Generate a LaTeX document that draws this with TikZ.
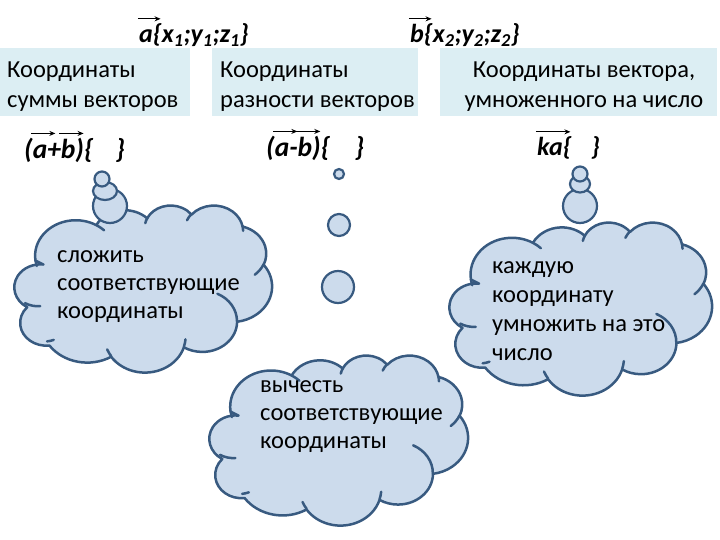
\documentclass[tikz,border=0pt]{standalone}
\usepackage{fontspec}
\setmainfont{Carlito}
\usetikzlibrary{arrows.meta}
\definecolor{boxc}{HTML}{DCEEF3}
\definecolor{cloudf}{HTML}{CCDBEC}
\definecolor{cloudd}{HTML}{385A80}
\newlength\vvw
\newcommand\vv[1]{\settowidth\vvw{#1}\rlap{\hspace{-0.08em}\raisebox{0.93em}{\tikz[x=1pt,y=1pt,baseline=0pt]\draw[line width=1.3pt,-{Stealth[length=6pt,width=5pt]}] (0,0)--(\vvw+0.35em,0);}}#1}
% PowerPoint-style cloud outline, in units of 1/432 of the cloud's box
\def\cloudpath{}
\def\cloudinner{}
\newcommand\addarc[4]{%
  \pgfmathsetmacro\tA{atan2((#1)*sin(#3),(#2)*cos(#3))}%
  \pgfmathsetmacro\tB{atan2((#1)*sin(#3+#4),(#2)*cos(#3+#4))}%
  \pgfmathsetmacro\tD{mod(\tB-\tA+720,360)}%
  \xdef\cloudpath{\cloudpath arc[x radius=#1,y radius=#2,start angle=\tA,delta angle=\tD]}}
\newcommand\addinner[6]{%
  \pgfmathsetmacro\tA{atan2((#3)*sin(#5),(#4)*cos(#5))}%
  \pgfmathsetmacro\tB{atan2((#3)*sin(#5+#6),(#4)*cos(#5+#6))}%
  \pgfmathsetmacro\tD{mod(\tB-\tA+720,360)}%
  \xdef\cloudinner{\cloudinner (#1,#2) arc[x radius=#3,y radius=#4,start angle=\tA,delta angle=\tD]}}
\addarc{67.53}{91.90}{-190.4875}{123.7805}
\addarc{53.33}{72.67}{-144.1024}{89.9452}
\addarc{43.65}{59.45}{-145.8079}{99.7230}
\addarc{48.57}{65.95}{-130.9861}{117.2417}
\addarc{53.33}{72.73}{-78.7089}{109.0269}
\addarc{67.75}{92.20}{-46.2673}{130.2690}
\addarc{57.85}{78.67}{0.6250}{114.0333}
\addarc{67.52}{92.15}{22.4516}{115.1726}
\addarc{77.20}{105.43}{66.2426}{69.4910}
\addarc{43.60}{59.18}{-274.9421}{146.7356}
\addarc{43.45}{59.45}{-246.8285}{161.6718}
\addinner{46.93}{261.77}{43.45}{59.45}{86.7420}{26.4295}
\addinner{69.28}{348.99}{43.60}{59.18}{73.6105}{11.4475}
\addinner{164.78}{390.90}{67.52}{92.15}{137.6242}{14.0811}
\addinner{288.27}{347.51}{67.52}{92.15}{6.4533}{15.9984}
\addinner{341.29}{229.54}{57.85}{78.67}{-70.2924}{70.9174}
\addinner{417.98}{153.54}{53.33}{72.73}{30.3180}{27.7515}
\addinner{383.24}{54.26}{48.57}{65.95}{-13.7443}{14.8589}
\addinner{290.78}{39.52}{48.57}{65.95}{-149.1815}{18.1954}
\addinner{221.41}{47.20}{43.65}{59.45}{-163.4943}{17.6864}
\addinner{140.00}{51.92}{67.53}{91.90}{-66.7070}{12.3194}
\addinner{41.27}{157.89}{67.53}{91.90}{157.6544}{11.8582}
\newcommand\pptcloud[4]{%
  \pgfmathsetmacro\cwx{#3/432}\pgfmathsetmacro\cwy{#4/432}%
  \begin{scope}[shift={(#1,#2)}, x=\cwx pt, y=-\cwy pt]
    \path[fill=cloudf, draw=cloudd, line width=2.5pt, line join=round] (39.00,143.70) \cloudpath -- cycle;
    \draw[cloudd, line width=2.5pt, line cap=round] \cloudinner;
  \end{scope}}
\begin{document}
\begin{tikzpicture}[x=1pt,y=-1pt,
  boxtxt/.style={anchor=north west, align=left, inner sep=0pt, font=\fontsize{24.5}{30}\selectfont},
  hdr/.style={anchor=base west, inner sep=0pt, font=\fontsize{26}{30}\selectfont\bfseries\itshape},
  lbl/.style={hdr, font=\fontsize{27.5}{30}\selectfont\bfseries\itshape},
  cloudtxt/.style={anchor=north west, align=left, inner sep=0pt, font=\fontsize{24.5}{28}\selectfont},
  bub/.style={fill=cloudf, draw=cloudd, line width=2.2pt}]
\useasboundingbox (0,0) rectangle (720,540);
% header boxes
\fill[boxc] (0,48) rectangle (190,116);
\fill[boxc] (212,48) rectangle (418,116);
\fill[boxc] (440,48) rectangle (717,116);
\node[boxtxt] (t1) at (7,62) {Координаты\\суммы векторов};
\node[boxtxt] (t2) at (220,62) {Координаты\\разности векторов};
\node[boxtxt, align=center, anchor=north] (t3) at (584,62) {Координаты вектора,\\умноженного на число};
% vector headers
\node[hdr] (va) at (139,43) {\vv{a}\{x\textsubscript{1};y\textsubscript{1};z\textsubscript{1}\}};
\node[hdr] (vb) at (410,43) {\vv{b}\{x\textsubscript{2};y\textsubscript{2};z\textsubscript{2}\}};
% operation labels
\node[lbl] (lsum) at (24,159) {(\vv{a}+\vv{b})\{\hspace{0.8em}\}};
\node[lbl] (ldif) at (266,157) {(\vv{a}-\vv{b})\{\hspace{0.9em}\}};
\node[hdr] (lmul) at (537,156) {\vv{ka}\{\hspace{0.75em}\}};
% clouds
\pptcloud{12}{205}{260}{167}
\pptcloud{207}{355}{261}{170}
\pptcloud{447}{222}{265}{173}
% thought bubbles
\draw[bub] (110,206) circle[radius=17pt];
\draw[bub] (105,191) ellipse[x radius=12pt, y radius=9pt];
\draw[bub] (102,179) circle[radius=7.5pt];
\draw[bub] (339,174) circle[radius=5pt];
\draw[bub] (339,225) circle[radius=11pt];
\draw[bub] (338,287) circle[radius=16pt];
\draw[bub] (580,206) circle[radius=17pt];
\draw[bub] (580,184) ellipse[x radius=10pt, y radius=8.5pt];
\draw[bub] (580,174) circle[radius=7.5pt];
% cloud texts
\node[cloudtxt] (x1) at (57,250.6) {сложить\\соответствующие\\координаты};
\node[cloudtxt] (x2) at (260,380.6) {вычесть\\соответствующие\\координаты};
\node[cloudtxt, font=\fontsize{24.5}{29}\selectfont] (x3) at (492,261.6) {каждую\\координату\\умножить на это\\число};
\end{tikzpicture}
\end{document}
